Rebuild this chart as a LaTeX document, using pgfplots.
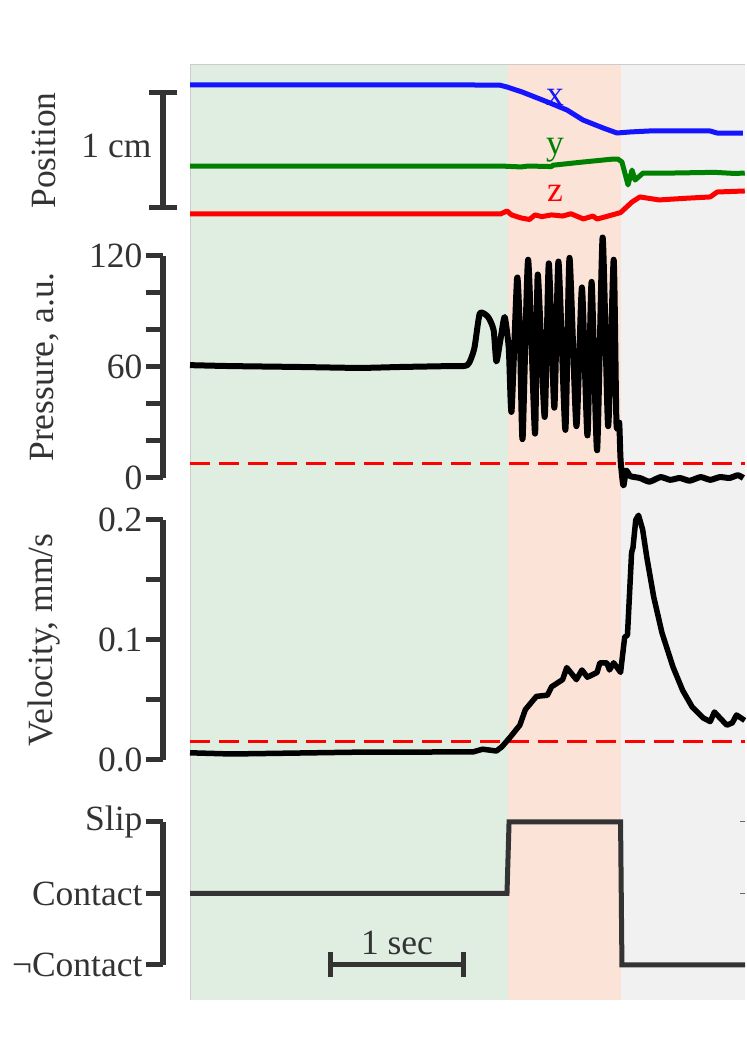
\documentclass[border=0pt]{standalone}
\usepackage{fontspec}
\setmainfont{Liberation Serif}
\usepackage{pgfplots}
\pgfplotsset{compat=1.18}
\usetikzlibrary{arrows.meta}

\definecolor{bggreen}{RGB}{224,238,226}
\definecolor{bgsalmon}{RGB}{252,227,216}
\definecolor{bggrey}{RGB}{241,241,241}
\definecolor{axgray}{RGB}{51,51,51}
\definecolor{posblue}{RGB}{20,20,255}
\definecolor{posgreen}{RGB}{0,128,0}
\definecolor{posred}{RGB}{255,0,0}

\newcommand{\lbl}{\fontsize{35.5}{40}\selectfont}

\pgfplotsset{
  panel/.style={
    scale only axis, anchor=south west, width=582pt,
    xmin=-0.1957, xmax=4.0217,
    axis x line=none, axis y line=left,
    y axis line style={-, line width=6pt, draw=axgray},
    tick align=outside, major tick length=17pt,
    ytick style={line width=5pt, draw=axgray},
    yticklabel style={font=\lbl, text=axgray},
    ylabel style={font=\lbl, text=axgray, at={(axis description cs:-0.204,0.5)}, anchor=center},
    clip=false,
    /pgf/number format/assume math mode=true,
  },
  thr/.style={posred, line width=3pt, dash pattern=on 20pt off 9pt},
}

\begin{document}
\begin{tikzpicture}
\useasboundingbox (0pt,0pt) rectangle (747pt,1058pt);

% background phases
\begin{axis}[scale only axis, anchor=south west, at={(190pt,58pt)},
  width=555pt, height=935pt, xmin=0, xmax=4.0217, ymin=0, ymax=1, hide axis]
\addplot[draw=none, fill=bggreen] coordinates {(0,1) (2.304,1)} \closedcycle;
\addplot[draw=none, fill=bgsalmon] coordinates {(2.304,1) (3.123,1)} \closedcycle;
\addplot[draw=none, fill=bggrey] coordinates {(3.123,1) (4.0217,1)} \closedcycle;
\draw[black!20, line width=1pt] (rel axis cs:0,0) -- (rel axis cs:0,1) -- (rel axis cs:1,1);
\end{axis}

% position
\begin{axis}[panel, at={(163pt,850pt)}, height=115pt, ymin=0, ymax=1,
  ytick={0,1}, yticklabels={}, tick align=center, major tick length=27pt,
  ylabel={Position}]
\addplot[posblue, line width=5pt, line join=round] coordinates {
(0,1.07) (1.0,1.07) (2.0,1.07) (2.246,1.068) (2.297,1.052) (2.406,1.009) (2.609,0.913)
(2.732,0.852) (2.848,0.765) (2.993,0.696) (3.094,0.652) (3.188,0.661) (3.333,0.670)
(3.768,0.670) (3.819,0.652) (4.007,0.652)};
\addplot[posgreen, line width=5pt, line join=round] coordinates {
(0,0.365) (1.5,0.365) (2.25,0.365) (2.40,0.357) (2.45,0.365) (2.62,0.360) (2.63,0.372)
(2.85,0.400) (3.07,0.426) (3.10,0.426) (3.13,0.400) (3.174,0.200) (3.203,0.330)
(3.225,0.243) (3.283,0.304) (3.5,0.304) (3.8,0.310) (3.95,0.300) (4.02,0.304)};
\addplot[posred, line width=5pt, line join=round] coordinates {
(0,-0.052) (2.25,-0.052) (2.297,-0.026) (2.33,-0.060) (2.40,-0.087) (2.46,-0.100)
(2.50,-0.060) (2.55,-0.075) (2.62,-0.060) (2.70,-0.070) (2.76,-0.050) (2.85,-0.095)
(2.92,-0.070) (2.95,-0.096) (3.0,-0.080) (3.06,-0.060) (3.12,-0.040) (3.203,0.052)
(3.26,0.096) (3.40,0.070) (3.60,0.085) (3.77,0.096) (3.82,0.139) (4.02,0.148)};
\node[anchor=east, font=\lbl, text=axgray] at (axis cs:-0.254,0.54) {1 cm};
\node[font=\lbl, text=posblue] at (axis cs:2.645,0.965) {x};
\node[font=\lbl, text=posgreen] at (axis cs:2.645,0.504) {y};
\node[font=\lbl, text=posred] at (axis cs:2.645,0.130) {z};
\end{axis}

% pressure
\begin{axis}[panel, at={(163pt,580pt)}, height=222pt, ymin=0, ymax=120,
  ytick={0,20,40,60,80,100,120}, yticklabels={0,,,60,,,120},
  ylabel={Pressure, a.u.}]
\addplot[thr] coordinates {(0,8) (4.0217,8)};
\addplot[black, line width=6pt, line join=round, smooth, tension=0.35] coordinates {
(0,61) (0.29,60.5) (0.80,60) (1.23,59.5) (1.52,60) (1.88,60.5) (2.01,61) (2.06,70)
(2.10,89) (2.16,87) (2.20,80) (2.22,63) (2.25,75) (2.28,87) (2.31,70) (2.33,36)
(2.37,108) (2.39,80) (2.41,21) (2.45,118) (2.50,24) (2.52,110) (2.57,33) (2.60,116)
(2.64,38) (2.67,117) (2.72,26) (2.75,119) (2.80,28) (2.84,103) (2.88,23) (2.91,106)
(2.95,15) (2.99,130) (3.03,28) (3.07,118) (3.09,30) (3.11,30) (3.12,10) (3.14,-4)
(3.16,4) (3.19,1) (3.26,0) (3.33,-2) (3.41,0.5) (3.48,-1) (3.55,0) (3.62,-1.5)
(3.70,0.5) (3.77,-1) (3.84,0.5) (3.91,0) (3.97,1.5) (4.01,0)};
\end{axis}

% velocity
\begin{axis}[panel, at={(163pt,298pt)}, height=240pt, ymin=0, ymax=0.2,
  ytick={0,0.05,0.1,0.15,0.2}, yticklabels={0.0,,0.1,,0.2},
  ylabel={Velocity, mm/s}]
\addplot[thr] coordinates {(0,0.015) (4.0217,0.015)};
\addplot[black, line width=5.5pt, line join=round] coordinates {
(0,0.006) (0.3,0.005) (0.6,0.0055) (0.9,0.006) (1.2,0.0065) (1.5,0.0065) (1.81,0.0067)
(2.05,0.0067) (2.12,0.009) (2.22,0.0075) (2.26,0.011) (2.32,0.019) (2.39,0.029)
(2.43,0.042) (2.51,0.053) (2.59,0.054) (2.62,0.061) (2.70,0.067) (2.73,0.077)
(2.80,0.067) (2.84,0.075) (2.88,0.069) (2.95,0.073) (2.97,0.081) (3.02,0.081)
(3.04,0.075) (3.07,0.081) (3.12,0.073) (3.15,0.1025) (3.17,0.104) (3.20,0.173)
(3.21,0.177) (3.23,0.200) (3.25,0.204) (3.28,0.192) (3.31,0.169) (3.36,0.136)
(3.42,0.106) (3.50,0.0775) (3.57,0.058) (3.64,0.044) (3.72,0.035) (3.77,0.032)
(3.80,0.040) (3.89,0.029) (3.93,0.031) (3.96,0.0375) (4.02,0.033)};
\end{axis}

% contact state
\begin{axis}[panel, at={(163pt,93pt)}, height=143pt, ymin=0, ymax=2,
  ytick={0,1,2}, yticklabels={¬Contact,Contact,Slip}]
\addplot[axgray, line width=5pt, line join=miter] coordinates {
(0,1) (2.297,1) (2.312,2) (3.12,2) (3.13,0) (4.0217,0)};
\draw[axgray, line width=5pt, {Bar[width=25pt]}-{Bar[width=25pt]}]
  (axis cs:1,0) -- (axis cs:2,0) node[midway, above=4pt, font=\lbl, text=axgray] {1 sec};
\end{axis}

% small right-hand ticks of the state panel
\begin{axis}[scale only axis, anchor=south west, at={(163pt,93pt)}, width=579pt,
  height=143pt, xmin=0, xmax=1, ymin=0, ymax=2,
  axis x line=none, axis y line=right, y axis line style={draw=none},
  ytick={1,2}, yticklabels={}, tick align=center, major tick length=5pt,
  ytick style={line width=1pt, draw=black!60}]
\end{axis}
\end{tikzpicture}
\end{document}
